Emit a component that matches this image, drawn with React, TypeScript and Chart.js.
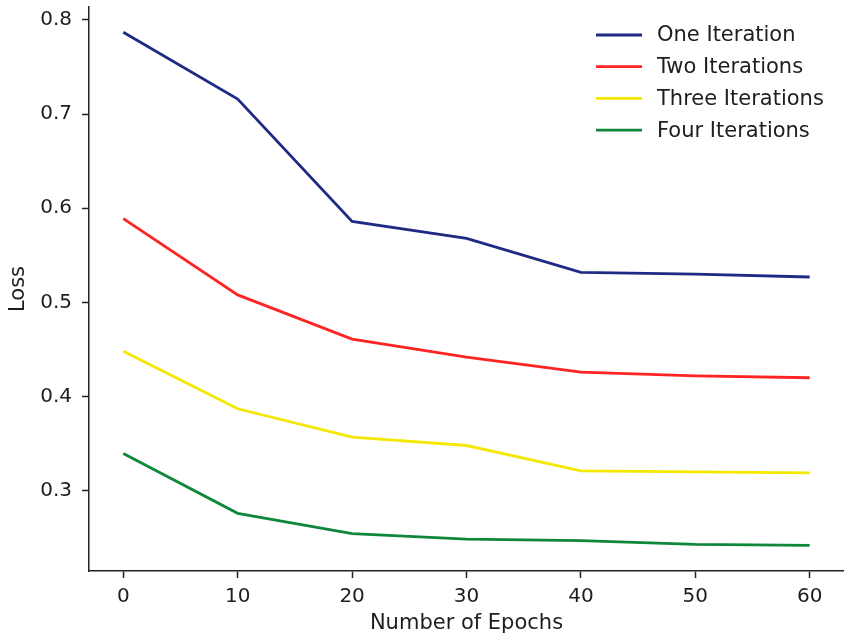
import React, { useEffect, useRef } from "react";
import { Chart, registerables } from "chart.js";

Chart.register(...registerables);

const epochs = [0, 10, 20, 30, 40, 50, 60];
const oneIteration = [0.787, 0.716, 0.586, 0.568, 0.532, 0.530, 0.527];
const twoIterations = [0.589, 0.508, 0.461, 0.442, 0.426, 0.422, 0.420];
const threeIterations = [0.448, 0.387, 0.357, 0.348, 0.321, 0.320, 0.319];
const fourIterations = [0.3395, 0.276, 0.2545, 0.2485, 0.247, 0.243, 0.242];
const seriesLabels = ["One Iteration", "Two Iterations", "Three Iterations", "Four Iterations"];
const seriesColors = ["#1f2a85", "#ff2424", "#f5e800", "#0e873a"];
const xTicks = [0, 10, 20, 30, 40, 50, 60];
const yTicks = [0.3, 0.4, 0.5, 0.6, 0.7, 0.8];

const FONT = "'DejaVu Sans', sans-serif";
const AXIS = "#222222";
const TEXT = "#1e1e1e";

const legendPlugin = {
  id: "customLegend",
  afterDraw(chart: any) {
    const ctx = chart.ctx;
    ctx.save();
    ctx.font = `21px ${FONT}`;
    ctx.textBaseline = "middle";
    ctx.textAlign = "left";
    chart.data.datasets.forEach((ds: any, i: number) => {
      const y = 35 + i * 31.7;
      ctx.strokeStyle = ds.borderColor;
      ctx.lineWidth = 2.8;
      ctx.beginPath();
      ctx.moveTo(596, y);
      ctx.lineTo(642, y);
      ctx.stroke();
      ctx.fillStyle = TEXT;
      ctx.fillText(ds.label, 657, y + 1);
    });
    ctx.restore();
  },
};

export default function App() {
  const ref = useRef<HTMLCanvasElement>(null);
  useEffect(() => {
    if (!ref.current) return;
    const series = [oneIteration, twoIterations, threeIterations, fourIterations];
    const chart = new Chart(ref.current, {
      type: "line",
      data: {
        datasets: series.map((s, i) => ({
          label: seriesLabels[i],
          data: s.map((v, j) => ({ x: epochs[j], y: v })),
          borderColor: seriesColors[i],
          backgroundColor: seriesColors[i],
          borderWidth: 2.8,
          pointRadius: 0,
          tension: 0,
          fill: false,
        })),
      },
      options: {
        animation: false,
        responsive: false,
        devicePixelRatio: 1,
        layout: { padding: { top: 7, right: 0, bottom: 0, left: 0 } },
        plugins: { legend: { display: false }, tooltip: { enabled: false } },
        scales: {
          x: {
            type: "linear",
            min: -3,
            max: 63,
            afterBuildTicks: (axis: any) => {
              axis.ticks = xTicks.map((v) => ({ value: v }));
            },
            afterFit: (axis: any) => {
              axis.height = 65;
              axis.paddingLeft = 0;
              axis.paddingRight = 0;
            },
            ticks: {
              font: { family: FONT, size: 20 },
              color: TEXT,
              padding: 7,
              maxRotation: 0,
              autoSkip: false,
            },
            grid: {
              display: true,
              drawOnChartArea: false,
              drawTicks: true,
              tickLength: 7,
              tickColor: AXIS,
              tickWidth: 1.5,
            },
            border: { display: true, color: AXIS, width: 1.5 },
            title: {
              display: true,
              text: "Number of Epochs",
              font: { family: FONT, size: 21 },
              color: TEXT,
              padding: { top: 0, bottom: 0 },
            },
          },
          y: {
            type: "linear",
            min: 0.2147,
            max: 0.8138,
            afterBuildTicks: (axis: any) => {
              axis.ticks = yTicks.map((v) => ({ value: v }));
            },
            afterFit: (axis: any) => {
              axis.width = 89;
              axis.paddingTop = 0;
              axis.paddingBottom = 0;
            },
            ticks: {
              font: { family: FONT, size: 20 },
              color: TEXT,
              padding: 10,
              callback: (v: any) => Number(v).toFixed(1),
            },
            grid: {
              display: true,
              drawOnChartArea: false,
              drawTicks: true,
              tickLength: 7,
              tickColor: AXIS,
              tickWidth: 1.5,
            },
            border: { display: true, color: AXIS, width: 1.5 },
            title: {
              display: true,
              text: "Loss",
              font: { family: FONT, size: 21 },
              color: TEXT,
              padding: { top: 6, bottom: 0 },
            },
          },
        },
      },
      plugins: [legendPlugin],
    });
    return () => chart.destroy();
  }, []);
  return (
    <div style={{ position: "fixed", left: 0, top: 0, width: 844, height: 636, background: "#fff" }}>
      <canvas ref={ref} width={844} height={636} style={{ display: "block" }} />
    </div>
  );
}
